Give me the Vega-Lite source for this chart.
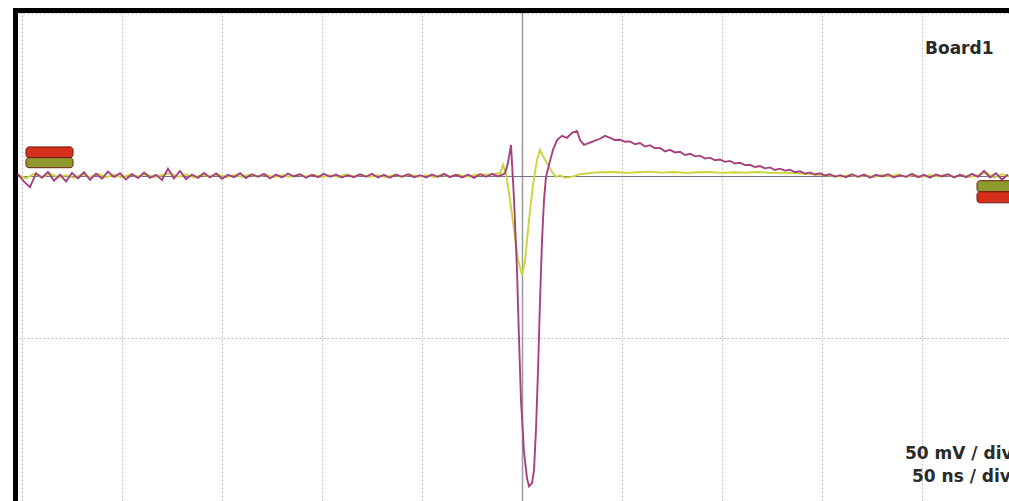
{
  "$schema": "https://vega.github.io/schema/vega-lite/v6.json",
  "autosize": {"type": "none"},
  "padding": {"left": 15, "top": 10, "right": 0, "bottom": 0},
  "width": 994,
  "height": 491,
  "background": "#ffffff",
  "config": {"view": {"stroke": null}},
  "datasets": {
    "purple": [
      {"t": -252, "v": 0.5}, {"t": -249, "v": -1.8}, {"t": -246, "v": -3.5}, {"t": -243, "v": 0.8}, {"t": -240, "v": -0.6},
      {"t": -237, "v": 1.2}, {"t": -234, "v": -1.5}, {"t": -231, "v": 0.4}, {"t": -228, "v": -1.7}, {"t": -225, "v": 0.9},
      {"t": -222, "v": -0.8}, {"t": -219, "v": 1.1}, {"t": -216, "v": -1.2}, {"t": -213, "v": 0.6}, {"t": -210, "v": -0.9},
      {"t": -207, "v": 1.3}, {"t": -204, "v": -0.4}, {"t": -201, "v": 0.8}, {"t": -198, "v": -1.1}, {"t": -195, "v": 0.5},
      {"t": -192, "v": -0.7}, {"t": -189, "v": 1.0}, {"t": -186, "v": -0.6}, {"t": -183, "v": 0.3}, {"t": -180, "v": -1.3},
      {"t": -177, "v": 2.2}, {"t": -174, "v": -0.8}, {"t": -171, "v": 1.5}, {"t": -168, "v": -1.0}, {"t": -165, "v": 0.4},
      {"t": -162, "v": -0.6}, {"t": -159, "v": 0.9}, {"t": -156, "v": -0.5}, {"t": -153, "v": 0.7}, {"t": -150, "v": -0.9},
      {"t": -147, "v": 0.3}, {"t": -144, "v": -0.4}, {"t": -141, "v": 0.8}, {"t": -138, "v": -0.7}, {"t": -135, "v": 0.5},
      {"t": -132, "v": -0.3}, {"t": -129, "v": 0.6}, {"t": -126, "v": -0.8}, {"t": -123, "v": 0.4}, {"t": -120, "v": -0.5},
      {"t": -117, "v": 0.7}, {"t": -114, "v": -0.2}, {"t": -111, "v": 0.5}, {"t": -108, "v": -0.6}, {"t": -105, "v": 0.3},
      {"t": -102, "v": -0.4}, {"t": -99, "v": 0.6}, {"t": -96, "v": -0.3}, {"t": -93, "v": 0.4}, {"t": -90, "v": -0.5},
      {"t": -87, "v": 0.2}, {"t": -84, "v": -0.4}, {"t": -81, "v": 0.5}, {"t": -78, "v": -0.3}, {"t": -75, "v": 0.6},
      {"t": -72, "v": -0.5}, {"t": -69, "v": 0.3}, {"t": -66, "v": -0.6}, {"t": -63, "v": 0.4}, {"t": -60, "v": -0.3},
      {"t": -57, "v": 0.5}, {"t": -54, "v": -0.4}, {"t": -51, "v": 0.2}, {"t": -48, "v": -0.5}, {"t": -45, "v": 0.4},
      {"t": -42, "v": -0.3}, {"t": -39, "v": 0.6}, {"t": -36, "v": -0.4}, {"t": -33, "v": 0.3}, {"t": -30, "v": -0.5},
      {"t": -27, "v": 0.4}, {"t": -24, "v": -0.6}, {"t": -21, "v": 0.5}, {"t": -18, "v": -0.3}, {"t": -15, "v": 0.6},
      {"t": -12, "v": -0.2}, {"t": -10, "v": 0.3}, {"t": -8.5, "v": 0.8}, {"t": -7, "v": 4}, {"t": -5.5, "v": 9.5},
      {"t": -4, "v": -7}, {"t": -2.5, "v": -29}, {"t": -1.5, "v": -50}, {"t": -0.5, "v": -69}, {"t": 1, "v": -85},
      {"t": 2.5, "v": -93}, {"t": 3.5, "v": -95.5}, {"t": 5, "v": -94.5}, {"t": 6, "v": -90.5}, {"t": 7, "v": -78},
      {"t": 8, "v": -60}, {"t": 9, "v": -38.5}, {"t": 10, "v": -20}, {"t": 11, "v": -7.4}, {"t": 12, "v": -0.3},
      {"t": 13.5, "v": 3.4}, {"t": 15.5, "v": 8}, {"t": 17.5, "v": 11}, {"t": 20, "v": 12.3}, {"t": 22.5, "v": 11.7},
      {"t": 25, "v": 13.2}, {"t": 27.5, "v": 13.8}, {"t": 29, "v": 11}, {"t": 31, "v": 9.5}, {"t": 34, "v": 10.2},
      {"t": 36.5, "v": 10.8}, {"t": 39, "v": 11.4}, {"t": 41.5, "v": 12.3}, {"t": 44, "v": 11.7}, {"t": 46.5, "v": 11},
      {"t": 49, "v": 11.1}, {"t": 51.5, "v": 10.5}, {"t": 54, "v": 10.6}, {"t": 56.5, "v": 9.7}, {"t": 59, "v": 10.1},
      {"t": 61.5, "v": 9.0}, {"t": 64, "v": 9.4}, {"t": 66.5, "v": 8.5}, {"t": 69, "v": 8.6}, {"t": 71.5, "v": 7.5},
      {"t": 74, "v": 8.0}, {"t": 76.5, "v": 7.2}, {"t": 79, "v": 7.4}, {"t": 81.5, "v": 6.4}, {"t": 84, "v": 6.8},
      {"t": 86.5, "v": 6.0}, {"t": 89, "v": 6.2}, {"t": 91.5, "v": 5.3}, {"t": 94, "v": 5.6}, {"t": 96.5, "v": 4.8},
      {"t": 99, "v": 5.0}, {"t": 101.5, "v": 4.3}, {"t": 104, "v": 4.6}, {"t": 106.5, "v": 3.8}, {"t": 109, "v": 4.0},
      {"t": 111.5, "v": 3.3}, {"t": 114, "v": 3.4}, {"t": 116.5, "v": 2.7}, {"t": 119, "v": 3.0}, {"t": 121.5, "v": 2.3},
      {"t": 124, "v": 2.6}, {"t": 126.5, "v": 1.8}, {"t": 129, "v": 2.2}, {"t": 131.5, "v": 1.6}, {"t": 134, "v": 1.9},
      {"t": 136.5, "v": 1.1}, {"t": 139, "v": 1.4}, {"t": 141.5, "v": 0.7}, {"t": 144, "v": 1.0}, {"t": 146.5, "v": 0.4},
      {"t": 149, "v": 0.8}, {"t": 151.5, "v": 0.1}, {"t": 154, "v": 0.5}, {"t": 156.5, "v": -0.3}, {"t": 159, "v": 0.2},
      {"t": 162, "v": -0.4}, {"t": 165, "v": 0.5}, {"t": 168, "v": -0.3}, {"t": 171, "v": 0.4}, {"t": 174, "v": -0.6},
      {"t": 177, "v": 0.3}, {"t": 180, "v": -0.2}, {"t": 183, "v": 0.5}, {"t": 186, "v": -0.5}, {"t": 189, "v": 0.2},
      {"t": 192, "v": -0.3}, {"t": 195, "v": 0.6}, {"t": 198, "v": -0.4}, {"t": 201, "v": 0.3}, {"t": 204, "v": -0.6},
      {"t": 207, "v": 0.4}, {"t": 210, "v": -0.2}, {"t": 213, "v": 0.5}, {"t": 216, "v": -0.5}, {"t": 219, "v": 0.3},
      {"t": 222, "v": -0.4}, {"t": 225, "v": 0.6}, {"t": 228, "v": -0.3}, {"t": 231, "v": 1.5}, {"t": 234, "v": -0.5},
      {"t": 237, "v": 0.8}, {"t": 240, "v": -1.2}, {"t": 243, "v": 0.4}
    ],
    "yellow": [
      {"t": -252, "v": 0.3}, {"t": -248, "v": -0.8}, {"t": -244, "v": 0.6}, {"t": -240, "v": -0.4}, {"t": -236, "v": 0.7},
      {"t": -232, "v": -0.5}, {"t": -228, "v": 0.2}, {"t": -224, "v": -0.6}, {"t": -220, "v": 0.5}, {"t": -216, "v": -0.3},
      {"t": -212, "v": 0.6}, {"t": -208, "v": -0.4}, {"t": -204, "v": 0.3}, {"t": -200, "v": -0.5}, {"t": -196, "v": 0.4},
      {"t": -192, "v": -0.2}, {"t": -188, "v": 0.5}, {"t": -184, "v": -0.4}, {"t": -180, "v": 0.2}, {"t": -176, "v": 0.8},
      {"t": -172, "v": -0.3}, {"t": -168, "v": 0.4}, {"t": -164, "v": -0.5}, {"t": -160, "v": 0.3}, {"t": -156, "v": -0.2},
      {"t": -152, "v": 0.5}, {"t": -148, "v": -0.4}, {"t": -144, "v": 0.3}, {"t": -140, "v": -0.3}, {"t": -136, "v": 0.4},
      {"t": -132, "v": -0.2}, {"t": -128, "v": 0.3}, {"t": -124, "v": -0.4}, {"t": -120, "v": 0.2}, {"t": -116, "v": -0.3},
      {"t": -112, "v": 0.4}, {"t": -108, "v": -0.2}, {"t": -104, "v": 0.3}, {"t": -100, "v": -0.4}, {"t": -96, "v": 0.2},
      {"t": -92, "v": -0.3}, {"t": -88, "v": 0.4}, {"t": -84, "v": -0.2}, {"t": -80, "v": 0.3}, {"t": -76, "v": -0.3},
      {"t": -72, "v": 0.2}, {"t": -68, "v": -0.4}, {"t": -64, "v": 0.3}, {"t": -60, "v": -0.2}, {"t": -56, "v": 0.4},
      {"t": -52, "v": -0.3}, {"t": -48, "v": 0.2}, {"t": -44, "v": -0.4}, {"t": -40, "v": 0.3}, {"t": -36, "v": -0.2},
      {"t": -32, "v": 0.4}, {"t": -28, "v": -0.3}, {"t": -24, "v": 0.2}, {"t": -20, "v": 0.5}, {"t": -16, "v": 0.3},
      {"t": -12, "v": 0.8}, {"t": -11, "v": 0.6}, {"t": -9.5, "v": 3.4}, {"t": -8, "v": 0.5}, {"t": -6, "v": -7.4},
      {"t": -4, "v": -16.6}, {"t": -2, "v": -25.8}, {"t": 0, "v": -30.5}, {"t": 1.5, "v": -26.5}, {"t": 3.5, "v": -13.5},
      {"t": 5.5, "v": -2.8}, {"t": 7.5, "v": 4.9}, {"t": 9, "v": 8}, {"t": 11, "v": 5.5}, {"t": 13, "v": 3.4},
      {"t": 15, "v": 1.2}, {"t": 17, "v": -0.3}, {"t": 19, "v": 0.2}, {"t": 21.5, "v": -0.6}, {"t": 24, "v": -0.4},
      {"t": 26.5, "v": 0}, {"t": 29, "v": 0.5}, {"t": 32, "v": 0.7}, {"t": 36, "v": 1.0}, {"t": 40, "v": 1.1},
      {"t": 46, "v": 1.2}, {"t": 52, "v": 0.9}, {"t": 58, "v": 1.1}, {"t": 64, "v": 1.3}, {"t": 70, "v": 1.0},
      {"t": 76, "v": 1.2}, {"t": 82, "v": 0.9}, {"t": 88, "v": 1.1}, {"t": 94, "v": 1.2}, {"t": 100, "v": 0.9},
      {"t": 106, "v": 1.1}, {"t": 112, "v": 1.0}, {"t": 118, "v": 1.2}, {"t": 124, "v": 0.9}, {"t": 130, "v": 1.0},
      {"t": 136, "v": 0.8}, {"t": 142, "v": 0.6}, {"t": 148, "v": 0.3}, {"t": 154, "v": 0.1}, {"t": 160, "v": -0.2},
      {"t": 164, "v": 0.3}, {"t": 168, "v": -0.3}, {"t": 172, "v": 0.2}, {"t": 176, "v": -0.4}, {"t": 180, "v": 0.3},
      {"t": 184, "v": -0.2}, {"t": 188, "v": 0.4}, {"t": 192, "v": -0.3}, {"t": 196, "v": 0.2}, {"t": 200, "v": -0.4},
      {"t": 204, "v": 0.3}, {"t": 208, "v": -0.2}, {"t": 212, "v": 0.4}, {"t": 216, "v": -0.3}, {"t": 220, "v": 0.2},
      {"t": 224, "v": -0.4}, {"t": 228, "v": 0.3}, {"t": 232, "v": 1.0}, {"t": 236, "v": -0.6}, {"t": 240, "v": 0.5},
      {"t": 243.5, "v": -0.2}
    ],
    "markers": [
      {"ch": "red", "t1": -248, "t2": -224.5, "v1": 8.9, "v2": 5.6},
      {"ch": "olive", "t1": -248, "t2": -224.5, "v1": 5.6, "v2": 2.5},
      {"ch": "olive", "t1": 227.5, "t2": 246, "v1": -1.5, "v2": -4.9},
      {"ch": "red", "t1": 227.5, "t2": 246, "v1": -4.9, "v2": -8.3}
    ],
    "labels": [
      {"t": 201.5, "v": 37.5, "label": "Board1"},
      {"t": 191.5, "v": -87.1, "label": "50 mV / div"},
      {"t": 195, "v": -94.2, "label": "50 ns / div"}
    ]
  },
  "layer": [
    {
      "data": {"name": "yellow"},
      "mark": {"type": "line", "color": "#cdd43a", "strokeWidth": 1.9, "interpolate": "linear"},
      "encoding": {
        "x": {
          "field": "t", "type": "quantitative",
          "scale": {"domain": [-253.5, 243.5], "nice": false, "zero": false},
          "axis": {
            "orient": "top", "title": null, "labels": false, "ticks": false,
            "values": [-250, -200, -150, -100, -50, 0, 50, 100, 150, 200],
            "domain": true, "domainColor": "#000000", "domainWidth": 5, "domainCap": "square",
            "grid": true,
            "gridColor": {"condition": {"test": "datum.value === 0", "value": "#9a9a9a"}, "value": "#c2c2c2"},
            "gridDash": {"condition": {"test": "datum.value === 0", "value": []}, "value": [2, 2]},
            "gridWidth": {"condition": {"test": "datum.value === 0", "value": 1.5}, "value": 1.2}
          }
        },
        "y": {
          "field": "v", "type": "quantitative",
          "scale": {"domain": [-100, 51], "nice": false, "zero": false},
          "axis": {
            "orient": "left", "title": null, "labels": false, "ticks": false,
            "values": [-50, 0, 50],
            "domain": true, "domainColor": "#000000", "domainWidth": 5, "domainCap": "square",
            "grid": true,
            "gridColor": {"condition": {"test": "datum.value === 0", "value": "#707484"}, "value": "#c2c2c2"},
            "gridDash": {"condition": {"test": "datum.value === 0", "value": []}, "value": [2, 2]},
            "gridWidth": {"condition": {"test": "datum.value === 0", "value": 1}, "value": 1.2}
          }
        }
      }
    },
    {
      "data": {"name": "purple"},
      "mark": {"type": "line", "color": "#a5417f", "strokeWidth": 1.9, "interpolate": "linear"},
      "encoding": {
        "x": {"field": "t", "type": "quantitative"},
        "y": {"field": "v", "type": "quantitative"}
      }
    },
    {
      "data": {"name": "markers"},
      "mark": {"type": "rect", "cornerRadius": 3, "stroke": "#6e1a10", "strokeWidth": 1},
      "encoding": {
        "x": {"field": "t1", "type": "quantitative"},
        "x2": {"field": "t2"},
        "y": {"field": "v1", "type": "quantitative"},
        "y2": {"field": "v2"},
        "color": {
          "field": "ch", "type": "nominal",
          "scale": {"domain": ["red", "olive"], "range": ["#d4301c", "#8f9a2e"]},
          "legend": null
        }
      }
    },
    {
      "data": {"name": "labels"},
      "mark": {"type": "text", "align": "left", "baseline": "alphabetic", "font": "DejaVu Sans", "fontWeight": "bold", "fontSize": 17, "color": "#2a2a2a"},
      "encoding": {
        "x": {"field": "t", "type": "quantitative"},
        "y": {"field": "v", "type": "quantitative"},
        "text": {"field": "label"}
      }
    }
  ]
}
